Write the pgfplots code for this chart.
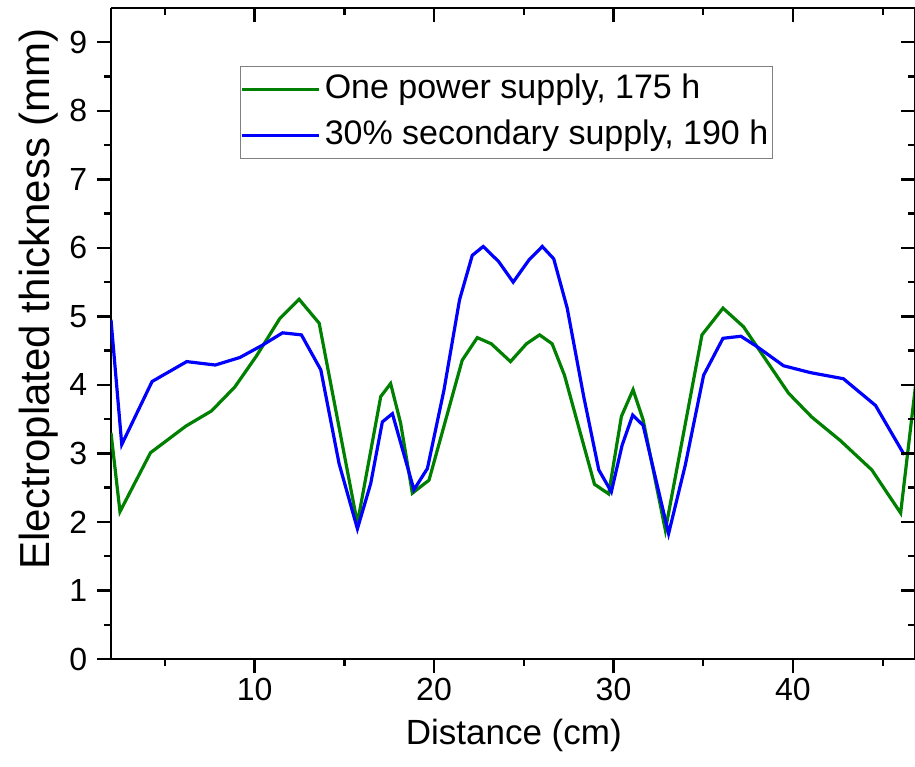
\documentclass[border=0pt]{standalone}
\usepackage{fontspec}
\setmainfont{Liberation Sans}
\usepackage{pgfplots}
\pgfplotsset{compat=1.18}
\definecolor{ogreen}{RGB}{0,128,0}
\definecolor{oblue}{RGB}{0,0,255}
\begin{document}
\begin{tikzpicture}
\pgfplotsset{
  common/.style={
    scale only axis, width=402pt, height=325.5pt,
    at={(0,0)}, anchor=south west,
    xmin=2, xmax=46.8, ymin=0, ymax=9.5,
    xtick={10,20,30,40}, minor xtick={5,15,25,35,45},
    ytick={0,1,2,3,4,5,6,7,8,9}, minor ytick={0.5,1.5,2.5,3.5,4.5,5.5,6.5,7.5,8.5},
    axis line style={-, line width=1.2pt, black},
    major tick length=7pt, minor tick length=3.5pt,
    tick style={line width=1.2pt, black},
  }
}
\begin{axis}[common,
  axis x line*=bottom, axis y line*=left, tick align=outside,
  xticklabel={\fontsize{16}{16}\selectfont\pgfmathprintnumber[assume math mode=true]{\tick}},
  yticklabel={\fontsize{16}{16}\selectfont\pgfmathprintnumber[assume math mode=true]{\tick}},
  xticklabel style={anchor=base, inner sep=0pt, yshift=-13.85pt},
  yticklabel style={anchor=east, inner sep=0pt, xshift=-4.75pt},
  xlabel={Distance (cm)},
  ylabel={Electroplated thickness (mm)},
  xlabel style={font=\fontsize{17.5}{20}\selectfont, at={(axis description cs:0.501,-0.1321)}, anchor=base},
  ylabel style={font=\fontsize{21}{24}\selectfont, at={(axis description cs:-0.077,0.553)}, anchor=base},
  legend style={at={(axis description cs:0.1604,0.911)}, anchor=north west,
    draw=gray, line width=0.6pt, inner xsep=0pt, inner ysep=0pt,
    font=\fontsize{17}{17}\selectfont,
    cells={anchor=west},
    nodes={inner ysep=3.5pt, inner xsep=2pt, text height=12.5pt, text depth=3.5pt},
    /tikz/every even column/.append style={column sep=2.5pt}},
  legend image code/.code={\draw[#1] (0pt,0pt) -- (38.5pt,0pt);},
]
\addplot[ogreen, line width=1.6pt] coordinates {
(2.0,3.30) (2.5,2.15) (4.2,3.01) (6.18,3.40) (7.6,3.62) (8.9,3.97) (10.1,4.42)
(11.41,4.97) (12.48,5.25) (13.6,4.90) (15.73,1.98) (17.03,3.83) (17.58,4.02)
(18.14,3.44) (18.79,2.42) (19.72,2.61) (21.57,4.36) (22.41,4.69) (23.19,4.60)
(24.26,4.34) (25.15,4.60) (25.88,4.73) (26.58,4.60) (27.27,4.14) (28.16,3.29)
(28.94,2.55) (29.73,2.41) (30.44,3.54) (31.09,3.93) (31.65,3.49) (32.89,1.88)
(34.93,4.73) (36.1,5.12) (37.24,4.85) (39.75,3.88) (41.05,3.53) (42.63,3.19)
(44.39,2.76) (46.0,2.13) (47.0,4.37)
};
\addlegendentry{One power supply, 175 h}
\addplot[oblue, line width=1.6pt] coordinates {
(2.0,4.95) (2.6,3.13) (4.29,4.05) (6.22,4.34) (7.81,4.29) (9.18,4.40) (10.44,4.58)
(11.56,4.76) (12.61,4.73) (13.69,4.22) (14.71,2.85) (15.73,1.90) (16.47,2.56)
(17.12,3.46) (17.68,3.58) (18.88,2.47) (19.63,2.78) (20.55,3.92) (21.42,5.24)
(22.13,5.89) (22.74,6.02) (23.6,5.80) (24.41,5.50) (25.28,5.82) (26.03,6.02)
(26.67,5.84) (27.42,5.12) (28.34,3.83) (29.18,2.76) (29.88,2.44) (30.48,3.12)
(31.07,3.56) (31.65,3.41) (33.07,1.83) (34.0,2.83) (35.02,4.14) (36.1,4.68)
(37.1,4.71) (37.99,4.56) (39.47,4.28) (40.96,4.18) (42.81,4.09) (44.6,3.70)
(46.2,2.98)
};
\addlegendentry{30\% secondary supply, 190 h}
\end{axis}
\begin{axis}[common,
  axis x line*=top, axis y line*=right, tick align=inside,
  xticklabels={}, yticklabels={},
]
\end{axis}
\pgfresetboundingbox
\path[use as bounding box] (-55.5pt,-53.5pt) rectangle (402pt,329.5pt);
\end{tikzpicture}
\end{document}
